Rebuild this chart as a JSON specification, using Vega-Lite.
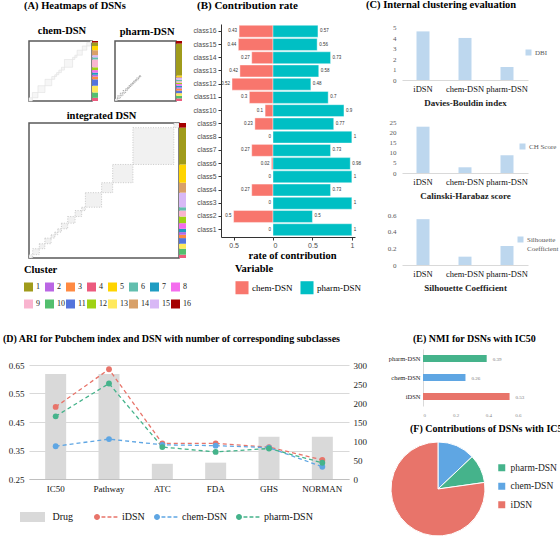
{
"$schema": "https://vega.github.io/schema/vega-lite/v6.json",
"background": "white",
"padding": {"left": 3, "top": 0, "right": 0, "bottom": 0},
"config": {
  "font": "Liberation Serif",
  "view": {"stroke": null},
  "title": {"font": "Liberation Serif", "fontWeight": "bold", "fontSize": 10.5, "anchor": "start", "color": "#000", "offset": 6},
  "axis": {"labelFont": "Liberation Serif", "titleFont": "Liberation Serif", "grid": false},
  "legend": {"labelFont": "Liberation Serif", "titleFont": "Liberation Serif", "padding": 0}
},
"datasets": {
  "segs": [
    {"net": "integrated", "c": "4", "s": 0, "e": 10},
    {"net": "integrated", "c": "10", "s": 10, "e": 28},
    {"net": "integrated", "c": "13", "s": 28, "e": 43},
    {"net": "integrated", "c": "11", "s": 43, "e": 60},
    {"net": "integrated", "c": "3", "s": 60, "e": 70},
    {"net": "integrated", "c": "2", "s": 70, "e": 78},
    {"net": "integrated", "c": "7", "s": 78, "e": 88},
    {"net": "integrated", "c": "8", "s": 88, "e": 105},
    {"net": "integrated", "c": "12", "s": 105, "e": 125},
    {"net": "integrated", "c": "9", "s": 125, "e": 143},
    {"net": "integrated", "c": "6", "s": 143, "e": 153},
    {"net": "integrated", "c": "15", "s": 153, "e": 197},
    {"net": "integrated", "c": "14", "s": 197, "e": 227},
    {"net": "integrated", "c": "5", "s": 227, "e": 282},
    {"net": "integrated", "c": "1", "s": 282, "e": 393},
    {"net": "integrated", "c": "16", "s": 393, "e": 407},
    {"net": "chem", "c": "4", "s": 0, "e": 9},
    {"net": "chem", "c": "10", "s": 9, "e": 24},
    {"net": "chem", "c": "13", "s": 24, "e": 43},
    {"net": "chem", "c": "11", "s": 43, "e": 61},
    {"net": "chem", "c": "3", "s": 61, "e": 69},
    {"net": "chem", "c": "2", "s": 69, "e": 74},
    {"net": "chem", "c": "7", "s": 74, "e": 80},
    {"net": "chem", "c": "8", "s": 80, "e": 87},
    {"net": "chem", "c": "12", "s": 87, "e": 95},
    {"net": "chem", "c": "9", "s": 95, "e": 117},
    {"net": "chem", "c": "6", "s": 117, "e": 123},
    {"net": "chem", "c": "15", "s": 123, "e": 129},
    {"net": "chem", "c": "14", "s": 129, "e": 143},
    {"net": "chem", "c": "5", "s": 143, "e": 155},
    {"net": "chem", "c": "1", "s": 155, "e": 165},
    {"net": "chem", "c": "16", "s": 165, "e": 169},
    {"net": "pharm", "c": "4", "s": 0, "e": 8},
    {"net": "pharm", "c": "10", "s": 8, "e": 16},
    {"net": "pharm", "c": "13", "s": 16, "e": 24},
    {"net": "pharm", "c": "11", "s": 24, "e": 32},
    {"net": "pharm", "c": "3", "s": 32, "e": 38},
    {"net": "pharm", "c": "2", "s": 38, "e": 42},
    {"net": "pharm", "c": "7", "s": 42, "e": 47},
    {"net": "pharm", "c": "8", "s": 47, "e": 52},
    {"net": "pharm", "c": "12", "s": 52, "e": 56},
    {"net": "pharm", "c": "9", "s": 56, "e": 61},
    {"net": "pharm", "c": "6", "s": 61, "e": 65},
    {"net": "pharm", "c": "15", "s": 65, "e": 71},
    {"net": "pharm", "c": "14", "s": 71, "e": 74},
    {"net": "pharm", "c": "5", "s": 74, "e": 78},
    {"net": "pharm", "c": "1", "s": 78, "e": 176},
    {"net": "pharm", "c": "16", "s": 176, "e": 184}
  ],
  "contrib": [
    {"cls": "class1", "var": "chem-DSN", "rate": 0},
    {"cls": "class2", "var": "chem-DSN", "rate": 0.5},
    {"cls": "class3", "var": "chem-DSN", "rate": 0},
    {"cls": "class4", "var": "chem-DSN", "rate": 0.27},
    {"cls": "class5", "var": "chem-DSN", "rate": 0},
    {"cls": "class6", "var": "chem-DSN", "rate": 0.02},
    {"cls": "class7", "var": "chem-DSN", "rate": 0.27},
    {"cls": "class8", "var": "chem-DSN", "rate": 0},
    {"cls": "class9", "var": "chem-DSN", "rate": 0.23},
    {"cls": "class10", "var": "chem-DSN", "rate": 0.1},
    {"cls": "class11", "var": "chem-DSN", "rate": 0.3},
    {"cls": "class12", "var": "chem-DSN", "rate": 0.52},
    {"cls": "class13", "var": "chem-DSN", "rate": 0.42},
    {"cls": "class14", "var": "chem-DSN", "rate": 0.27},
    {"cls": "class15", "var": "chem-DSN", "rate": 0.44},
    {"cls": "class16", "var": "chem-DSN", "rate": 0.43},
    {"cls": "class1", "var": "pharm-DSN", "rate": 1},
    {"cls": "class2", "var": "pharm-DSN", "rate": 0.5},
    {"cls": "class3", "var": "pharm-DSN", "rate": 1},
    {"cls": "class4", "var": "pharm-DSN", "rate": 0.73},
    {"cls": "class5", "var": "pharm-DSN", "rate": 1},
    {"cls": "class6", "var": "pharm-DSN", "rate": 0.98},
    {"cls": "class7", "var": "pharm-DSN", "rate": 0.73},
    {"cls": "class8", "var": "pharm-DSN", "rate": 1},
    {"cls": "class9", "var": "pharm-DSN", "rate": 0.77},
    {"cls": "class10", "var": "pharm-DSN", "rate": 0.9},
    {"cls": "class11", "var": "pharm-DSN", "rate": 0.7},
    {"cls": "class12", "var": "pharm-DSN", "rate": 0.48},
    {"cls": "class13", "var": "pharm-DSN", "rate": 0.58},
    {"cls": "class14", "var": "pharm-DSN", "rate": 0.73},
    {"cls": "class15", "var": "pharm-DSN", "rate": 0.56},
    {"cls": "class16", "var": "pharm-DSN", "rate": 0.57}
  ],
  "ivi": [
    {"m": "DBI", "net": "iDSN", "val": 4.67},
    {"m": "DBI", "net": "chem-DSN", "val": 4.04},
    {"m": "DBI", "net": "pharm-DSN", "val": 1.25},
    {"m": "CH Score", "net": "iDSN", "val": 22.7},
    {"m": "CH Score", "net": "chem-DSN", "val": 2.8},
    {"m": "CH Score", "net": "pharm-DSN", "val": 8.7},
    {"m": "Silhouette Coefficient", "net": "iDSN", "val": 0.55},
    {"m": "Silhouette Coefficient", "net": "chem-DSN", "val": 0.1},
    {"m": "Silhouette Coefficient", "net": "pharm-DSN", "val": 0.228}
  ],
  "drug": [
    {"cat": "IC50", "kind": "Drug", "n": 276},
    {"cat": "Pathway", "kind": "Drug", "n": 276},
    {"cat": "ATC", "kind": "Drug", "n": 40},
    {"cat": "FDA", "kind": "Drug", "n": 43},
    {"cat": "GHS", "kind": "Drug", "n": 111},
    {"cat": "NORMAN", "kind": "Drug", "n": 111}
  ],
  "ari": [
    {"cat": "IC50", "dsn": "iDSN", "ari": 0.503},
    {"cat": "Pathway", "dsn": "iDSN", "ari": 0.635},
    {"cat": "ATC", "dsn": "iDSN", "ari": 0.375},
    {"cat": "FDA", "dsn": "iDSN", "ari": 0.375},
    {"cat": "GHS", "dsn": "iDSN", "ari": 0.362},
    {"cat": "NORMAN", "dsn": "iDSN", "ari": 0.317},
    {"cat": "IC50", "dsn": "chem-DSN", "ari": 0.365},
    {"cat": "Pathway", "dsn": "chem-DSN", "ari": 0.39},
    {"cat": "ATC", "dsn": "chem-DSN", "ari": 0.37},
    {"cat": "FDA", "dsn": "chem-DSN", "ari": 0.367},
    {"cat": "GHS", "dsn": "chem-DSN", "ari": 0.36},
    {"cat": "NORMAN", "dsn": "chem-DSN", "ari": 0.293},
    {"cat": "IC50", "dsn": "pharm-DSN", "ari": 0.47},
    {"cat": "Pathway", "dsn": "pharm-DSN", "ari": 0.585},
    {"cat": "ATC", "dsn": "pharm-DSN", "ari": 0.362},
    {"cat": "FDA", "dsn": "pharm-DSN", "ari": 0.345},
    {"cat": "GHS", "dsn": "pharm-DSN", "ari": 0.357},
    {"cat": "NORMAN", "dsn": "pharm-DSN", "ari": 0.307}
  ],
  "nmi": [
    {"dsn": "pharm-DSN", "nmi": 0.39},
    {"dsn": "chem-DSN", "nmi": 0.26},
    {"dsn": "iDSN", "nmi": 0.53}
  ],
  "share": [
    {"dsn": "chem-DSN", "p": 0.1294},
    {"dsn": "pharm-DSN", "p": 0.0983},
    {"dsn": "iDSN", "p": 0.7723}
  ],
  "dot": [{"k": 0}]
},
"resolve": {"scale": {"color": "independent", "fill": "independent", "stroke": "independent"}, "legend": {"color": "independent", "fill": "independent", "stroke": "independent"}},
"spacing": 25,
"vconcat": [
  {
    "spacing": 0,
    "resolve": {"scale": {"color": "independent"}, "legend": {"color": "independent"}},
    "hconcat": [
      {
        "title": {"text": "(A) Heatmaps  of DSNs", "offset": 13},
        "spacing": 0,
        "resolve": {"scale": {"color": "independent"}, "legend": {"color": "independent"}},
        "vconcat": [
          {"width": 1, "height": 1, "data": {"name": "dot"}, "mark": {"type": "point", "opacity": 0, "size": 1}},
          {
            "spacing": 7,
            "resolve": {"scale": {"color": "independent"}, "legend": {"color": "independent"}},
            "vconcat": [
              {
                "spacing": 15,
                "resolve": {"scale": {"color": "independent"}, "legend": {"color": "independent"}},
                "hconcat": [
                  {
                    "spacing": 0, "bounds": "flush",
                    "resolve": {"scale": {"color": "independent"}, "legend": {"color": "independent"}},
                    "hconcat": [
                      {
                        "width": 63, "height": 60,
                        "title": {"text": "chem-DSN", "anchor": "start", "dx": 9, "fontSize": 10.5, "offset": 4},
                        "view": {"stroke": "#5a5a5a", "strokeWidth": 1.5},
                        "data": {"name": "segs"},
                        "transform": [{"filter": "datum.net == 'chem'"}],
                        "mark": {"type": "rect", "fill": "#f6f6f6", "stroke": "#dddddd", "strokeWidth": 0.5},
                        "encoding": {
                          "x": {"field": "s", "type": "quantitative", "scale": {"domain": [0, 169], "nice": false}, "axis": null},
                          "x2": {"field": "e"},
                          "y": {"field": "s", "type": "quantitative", "scale": {"domain": [0, 169], "nice": false}, "axis": null},
                          "y2": {"field": "e"}
                        }
                      },
                      {
                        "width": 6, "height": 60,
                        "data": {"name": "segs"},
                        "transform": [{"filter": "datum.net == 'chem'"}],
                        "mark": {"type": "rect"},
                        "encoding": {
                          "y": {"field": "s", "type": "quantitative", "scale": {"domain": [0, 169], "nice": false}, "axis": null},
                          "y2": {"field": "e"},
                          "color": {"field": "c", "type": "nominal",
                            "scale": {"domain": ["1","2","3","4","5","6","7","8","9","10","11","12","13","14","15","16"],
                                      "range": ["#A09B1B","#BA66E4","#FF8A42","#EC5B7E","#FFD400","#62BEAE","#1E9CC2","#F46DEE","#F9B4CF","#53BF6E","#5474DC","#9FD214","#FFE95C","#D8A068","#D8B8F6","#A50000"]},
                            "legend": null}
                        }
                      }
                    ]
                  },
                  {
                    "spacing": 0, "bounds": "flush",
                    "resolve": {"scale": {"color": "independent"}, "legend": {"color": "independent"}},
                    "hconcat": [
                      {
                        "width": 61, "height": 60,
                        "title": {"text": "pharm-DSN", "anchor": "start", "dx": 5, "fontSize": 10.5, "offset": 4},
                        "view": {"stroke": "#5a5a5a", "strokeWidth": 1.5},
                        "data": {"name": "segs"},
                        "transform": [{"filter": "datum.net == 'pharm' && datum.c != '1' && datum.c != '16'"}],
                        "mark": {"type": "rect", "fill": "#eeeeee", "stroke": "#777777", "strokeWidth": 0.6, "strokeDash": [1, 1]},
                        "encoding": {
                          "x": {"field": "s", "type": "quantitative", "scale": {"domain": [0, 184], "nice": false}, "axis": null},
                          "x2": {"field": "e"},
                          "y": {"field": "s", "type": "quantitative", "scale": {"domain": [0, 184], "nice": false}, "axis": null},
                          "y2": {"field": "e"}
                        }
                      },
                      {
                        "width": 6, "height": 60,
                        "data": {"name": "segs"},
                        "transform": [{"filter": "datum.net == 'pharm'"}],
                        "mark": {"type": "rect"},
                        "encoding": {
                          "y": {"field": "s", "type": "quantitative", "scale": {"domain": [0, 184], "nice": false}, "axis": null},
                          "y2": {"field": "e"},
                          "color": {"field": "c", "type": "nominal",
                            "scale": {"domain": ["1","2","3","4","5","6","7","8","9","10","11","12","13","14","15","16"],
                                      "range": ["#A09B1B","#BA66E4","#FF8A42","#EC5B7E","#FFD400","#62BEAE","#1E9CC2","#F46DEE","#F9B4CF","#53BF6E","#5474DC","#9FD214","#FFE95C","#D8A068","#D8B8F6","#A50000"]},
                            "legend": null}
                        }
                      }
                    ]
                  }
                ]
              },
              {
                "spacing": 0, "bounds": "flush",
                "resolve": {"scale": {"color": "independent"}, "legend": {"color": "independent"}},
                "hconcat": [
                  {
                    "width": 150, "height": 135,
                    "title": {"text": "integrated DSN", "anchor": "start", "dx": 38, "fontSize": 10.5, "offset": 1},
                    "view": {"stroke": "#5a5a5a", "strokeWidth": 1.5},
                    "data": {"name": "segs"},
                    "transform": [{"filter": "datum.net == 'integrated'"}],
                    "mark": {"type": "rect", "fill": "#f1f1f1", "stroke": "#aaaaaa", "strokeWidth": 0.6, "strokeDash": [1, 1.5]},
                    "encoding": {
                      "x": {"field": "s", "type": "quantitative", "scale": {"domain": [0, 407], "nice": false}, "axis": null},
                      "x2": {"field": "e"},
                      "y": {"field": "s", "type": "quantitative", "scale": {"domain": [0, 407], "nice": false}, "axis": null},
                      "y2": {"field": "e"}
                    }
                  },
                  {
                    "width": 7, "height": 135,
                    "data": {"name": "segs"},
                    "transform": [{"filter": "datum.net == 'integrated'"}],
                    "mark": {"type": "rect"},
                    "encoding": {
                      "y": {"field": "s", "type": "quantitative", "scale": {"domain": [0, 407], "nice": false}, "axis": null},
                      "y2": {"field": "e"},
                      "color": {"field": "c", "type": "nominal",
                        "scale": {"domain": ["1","2","3","4","5","6","7","8","9","10","11","12","13","14","15","16"],
                                  "range": ["#A09B1B","#BA66E4","#FF8A42","#EC5B7E","#FFD400","#62BEAE","#1E9CC2","#F46DEE","#F9B4CF","#53BF6E","#5474DC","#9FD214","#FFE95C","#D8A068","#D8B8F6","#A50000"]},
                        "legend": {"title": "Cluster", "orient": "none", "legendX": -155, "legendY": 142, "direction": "horizontal", "columns": 8, "symbolType": "square", "symbolSize": 81, "symbolStrokeWidth": 0, "labelFontSize": 8, "labelOffset": 3, "columnPadding": 1, "rowPadding": 8, "gridAlign": "all", "titleFontSize": 10.5, "titleFontWeight": "bold", "titlePadding": 7, "titleOrient": "top", "titleAnchor": "start", "titleAlign": "left", "labelColor": "#222"}}
                    }
                  }
                ]
              }
            ]
          }
        ]
      },
      {
        "title": {"text": "(B) Contribution   rate", "fontSize": 11, "offset": 13, "dx": 6},
        "data": {"name": "contrib"},
        "spacing": 0, "bounds": "flush",
        "resolve": {"scale": {"color": "independent"}, "legend": {"color": "independent"}},
        "hconcat": [
          {
            "width": 52, "height": 213,
            "transform": [{"filter": "datum.var == 'chem-DSN'"}],
            "encoding": {
              "y": {"field": "cls", "type": "nominal",
                "sort": ["class16","class15","class14","class13","class12","class11","class10","class9","class8","class7","class6","class5","class4","class3","class2","class1"],
                "scale": {"paddingInner": 0.1, "paddingOuter": 0.1},
                "axis": {"title": null, "labelFont": "Liberation Sans", "labelFontSize": 6.8, "labelColor": "#4d4d4d", "tickColor": "#333", "tickSize": 3, "domainColor": "#333", "labelPadding": 2, "minExtent": 30, "maxExtent": 30}},
              "x": {"field": "rate", "type": "quantitative", "scale": {"domain": [0, 0.66], "reverse": true, "nice": false},
                "axis": {"values": [0.5], "format": "~g", "title": null, "labelFont": "Liberation Sans", "labelFontSize": 7, "labelColor": "#4d4d4d", "tickColor": "#333", "tickSize": 3, "domainColor": "#333", "labelPadding": 1}}
            },
            "layer": [
              {"mark": {"type": "bar", "stroke": "white", "strokeWidth": 0.4},
               "encoding": {"color": {"field": "var", "type": "nominal", "scale": {"domain": ["chem-DSN", "pharm-DSN"], "range": ["#F8766D", "#00BFC4"]},
                 "legend": {"title": "Variable", "orient": "none", "legendX": 14, "legendY": 240, "direction": "horizontal", "titleOrient": "top", "titleAnchor": "start", "titleAlign": "left", "symbolType": "square", "symbolSize": 170, "symbolStrokeWidth": 0, "labelFontSize": 9, "titleFontSize": 10.5, "titleFontWeight": "bold", "titlePadding": 6, "columnPadding": 7, "labelOffset": 3}}}},
              {"mark": {"type": "text", "align": "right", "dx": -2, "fontSize": 4.5, "font": "Liberation Sans", "color": "#333"},
               "encoding": {"text": {"field": "rate", "type": "quantitative", "format": ".2~f"}}}
            ]
          },
          {
            "width": 82, "height": 213,
            "transform": [{"filter": "datum.var == 'pharm-DSN'"}],
            "encoding": {
              "y": {"field": "cls", "type": "nominal",
                "sort": ["class16","class15","class14","class13","class12","class11","class10","class9","class8","class7","class6","class5","class4","class3","class2","class1"],
                "scale": {"paddingInner": 0.1, "paddingOuter": 0.1}, "axis": null},
              "x": {"field": "rate", "type": "quantitative", "scale": {"domain": [0, 1.04], "nice": false},
                "axis": {"values": [0, 0.5, 1], "format": "~g", "title": "rate of contribution", "titleX": 19, "titleFontSize": 10.5, "titleFontWeight": "bold", "titlePadding": 2, "labelFont": "Liberation Sans", "labelFontSize": 7, "labelColor": "#4d4d4d", "tickColor": "#333", "tickSize": 3, "domainColor": "#333", "labelPadding": 1}}
            },
            "layer": [
              {"mark": {"type": "bar", "stroke": "white", "strokeWidth": 0.4},
               "encoding": {"color": {"field": "var", "type": "nominal", "scale": {"domain": ["chem-DSN", "pharm-DSN"], "range": ["#F8766D", "#00BFC4"]}, "legend": null}}},
              {"mark": {"type": "text", "align": "left", "dx": 2, "fontSize": 4.5, "font": "Liberation Sans", "color": "#333"},
               "encoding": {"text": {"field": "rate", "type": "quantitative", "format": ".2~f"}}}
            ]
          }
        ]
      },
      {
        "title": {"text": "(C) Internal  clustering evaluation", "offset": 13, "dx": 4},
        "data": {"name": "ivi"},
        "spacing": 10,
        "resolve": {"scale": {"color": "independent"}, "legend": {"color": "independent"}},
        "vconcat": [
          {
            "width": 126, "height": 56,
            "transform": [{"filter": "datum.m == 'DBI'"}],
            "mark": {"type": "bar", "width": 13},
            "encoding": {
              "x": {"field": "net", "type": "nominal", "sort": ["iDSN", "chem-DSN", "pharm-DSN"], "scale": {"paddingInner": 0, "paddingOuter": 0},
                "axis": {"title": "Davies-Bouldin index", "labelAngle": 0, "labelFontSize": 8.5, "labelColor": "#111", "domainColor": "#D9D9D9", "ticks": false, "labelPadding": 4, "titleFontSize": 9, "titleFontWeight": "bold", "titlePadding": 6, "titleColor": "#222"}},
              "y": {"field": "val", "type": "quantitative", "scale": {"domain": [0, 5.38], "nice": false},
                "axis": {"values": [0, 1, 2, 3, 4, 5], "title": null, "domain": false, "ticks": false, "labelFontSize": 7, "labelColor": "#595959", "labelPadding": 6, "minExtent": 40, "maxExtent": 40}},
              "color": {"field": "m", "type": "nominal", "scale": {"range": ["#BDD7EE"]},
                "legend": {"orient": "none", "legendX": 123, "legendY": 25, "title": null, "symbolType": "square", "symbolSize": 36, "symbolStrokeWidth": 0, "labelFontSize": 7, "labelColor": "#595959", "labelOffset": 3}}
            }
          },
          {
            "width": 126, "height": 51,
            "transform": [{"filter": "datum.m == 'CH Score'"}],
            "mark": {"type": "bar", "width": 13},
            "encoding": {
              "x": {"field": "net", "type": "nominal", "sort": ["iDSN", "chem-DSN", "pharm-DSN"], "scale": {"paddingInner": 0, "paddingOuter": 0},
                "axis": {"title": "Calinski-Harabaz score", "labelAngle": 0, "labelFontSize": 8.5, "labelColor": "#111", "domainColor": "#D9D9D9", "ticks": false, "labelPadding": 4, "titleFontSize": 9, "titleFontWeight": "bold", "titlePadding": 6, "titleColor": "#222"}},
              "y": {"field": "val", "type": "quantitative", "scale": {"domain": [0, 25], "nice": false},
                "axis": {"values": [0, 5, 10, 15, 20, 25], "title": null, "domain": false, "ticks": false, "labelFontSize": 7, "labelColor": "#595959", "labelPadding": 6, "minExtent": 40, "maxExtent": 40}},
              "color": {"field": "m", "type": "nominal", "scale": {"range": ["#BDD7EE"]},
                "legend": {"orient": "none", "legendX": 117, "legendY": 21, "title": null, "symbolType": "square", "symbolSize": 36, "symbolStrokeWidth": 0, "labelFontSize": 7, "labelColor": "#595959", "labelOffset": 3}}
            }
          },
          {
            "width": 126, "height": 50,
            "transform": [{"filter": "datum.m == 'Silhouette Coefficient'"}],
            "mark": {"type": "bar", "width": 13},
            "encoding": {
              "x": {"field": "net", "type": "nominal", "sort": ["iDSN", "chem-DSN", "pharm-DSN"], "scale": {"paddingInner": 0, "paddingOuter": 0},
                "axis": {"title": "Silhouette Coefficient", "labelAngle": 0, "labelFontSize": 8.5, "labelColor": "#111", "domainColor": "#D9D9D9", "ticks": false, "labelPadding": 4, "titleFontSize": 9, "titleFontWeight": "bold", "titlePadding": 6, "titleColor": "#222"}},
              "y": {"field": "val", "type": "quantitative", "scale": {"domain": [0, 0.6], "nice": false},
                "axis": {"values": [0, 0.2, 0.4, 0.6], "format": ".1~f", "title": null, "domain": false, "ticks": false, "labelFontSize": 7, "labelColor": "#595959", "labelPadding": 6, "minExtent": 40, "maxExtent": 40}},
              "color": {"field": "m", "type": "nominal", "scale": {"range": ["#BDD7EE"]},
                "legend": {"orient": "none", "legendX": 115, "legendY": 21, "title": null, "symbolType": "square", "symbolSize": 36, "symbolStrokeWidth": 0, "labelFontSize": 7, "labelColor": "#595959", "labelOffset": 3, "labelExpr": "split(datum.label, ' ')"}}
            }
          }
        ]
      }
    ]
  },
  {
    "spacing": 14,
    "resolve": {"scale": {"color": "independent", "fill": "independent", "stroke": "independent"}, "legend": {"color": "independent", "fill": "independent", "stroke": "independent"}},
    "hconcat": [
      {
        "title": {"text": "(D) ARI  for  Pubchem  index  and DSN with number  of  corresponding  subclasses", "fontSize": 10, "offset": 5},
        "spacing": 11,
        "resolve": {"scale": {"color": "independent", "fill": "independent", "stroke": "independent"}, "legend": {"color": "independent", "fill": "independent", "stroke": "independent"}},
        "vconcat": [
          {"width": 1, "height": 1, "data": {"name": "dot"}, "mark": {"type": "point", "opacity": 0, "size": 1}},
          {
            "width": 320, "height": 114,
            "encoding": {
              "x": {"field": "cat", "type": "nominal", "sort": ["IC50", "Pathway", "ATC", "FDA", "GHS", "NORMAN"], "scale": {"paddingInner": 0, "paddingOuter": 0},
                "axis": {"title": null, "labelAngle": 0, "labelFontSize": 9, "labelColor": "#111", "domainColor": "#BFBFBF", "ticks": false, "labelPadding": 5}}
            },
            "resolve": {"scale": {"y": "independent"}},
            "layer": [
              {
                "data": {"name": "drug"},
                "mark": {"type": "bar", "width": 21},
                "encoding": {
                  "y": {"field": "n", "type": "quantitative", "scale": {"domain": [0, 300], "nice": false},
                    "axis": {"orient": "right", "values": [0, 50, 100, 150, 200, 250, 300], "title": null, "domain": false, "ticks": false, "labelFontSize": 9, "labelColor": "#222", "labelPadding": 4}},
                  "fill": {"field": "kind", "type": "nominal", "scale": {"range": ["#D9D9D9"]},
                    "legend": {"orient": "none", "legendX": -1.5, "legendY": 147, "title": null, "symbolType": "M-2.5,-1H2.5V1H-2.5Z", "symbolSize": 100, "symbolStrokeWidth": 0, "labelOffset": 15, "labelFontSize": 10, "labelColor": "#111"}}
                }
              },
              {
                "data": {"name": "ari"},
                "encoding": {
                  "y": {"field": "ari", "type": "quantitative", "scale": {"domain": [0.25, 0.65], "nice": false},
                    "axis": {"orient": "left", "values": [0.25, 0.35, 0.45, 0.55, 0.65], "format": ".2f", "title": null, "domain": false, "ticks": false, "grid": true, "gridColor": "#D9D9D9", "labelFontSize": 9, "labelColor": "#222", "labelPadding": 5, "minExtent": 26, "maxExtent": 26}}
                },
                "layer": [
                  {"mark": {"type": "line", "strokeDash": [4, 3], "strokeWidth": 1.3},
                   "encoding": {"stroke": {"field": "dsn", "type": "nominal", "scale": {"domain": ["chem-DSN", "iDSN", "pharm-DSN"], "range": ["#5FA6E3", "#E8746A", "#45B38B"]}, "legend": null}}},
                  {"mark": {"type": "point", "filled": true, "size": 34, "opacity": 1},
                   "encoding": {"color": {"field": "dsn", "type": "nominal", "scale": {"domain": ["iDSN", "chem-DSN", "pharm-DSN"], "range": ["#E8746A", "#5FA6E3", "#45B38B"]},
                     "legend": {"orient": "none", "legendX": 70.5, "legendY": 147, "title": null, "direction": "horizontal",
                       "symbolType": "M-3.5,0A1,1,0,1,1,-1.5,0A1,1,0,1,1,-3.5,0Z M-1,-0.22H0.3V0.22H-1Z M1,-0.22H2.3V0.22H1Z M3,-0.22H4.3V0.22H3Z",
                       "symbolSize": 36, "symbolStrokeWidth": 0, "symbolOpacity": 1, "labelOffset": 12.5, "columnPadding": 8, "labelFontSize": 10, "labelColor": "#111"}}}}
                ]
              }
            ]
          }
        ]
      },
      {
        "spacing": 7,
        "resolve": {"scale": {"color": "independent"}, "legend": {"color": "independent"}},
        "vconcat": [
          {
            "title": {"text": "(E) NMI  for DSNs with IC50", "fontSize": 10, "dx": 32, "offset": 5},
            "width": 98, "height": 57,
            "data": {"name": "nmi"},
            "encoding": {
              "y": {"field": "dsn", "type": "nominal", "sort": ["pharm-DSN", "chem-DSN", "iDSN"], "scale": {"paddingInner": 0.6, "paddingOuter": 0.3},
                "axis": {"title": null, "ticks": false, "domainColor": "#D9D9D9", "labelFontSize": 6.5, "labelColor": "#222", "labelPadding": 3, "minExtent": 42, "maxExtent": 42}},
              "x": {"field": "nmi", "type": "quantitative", "scale": {"domain": [0, 0.6], "nice": false},
                "axis": {"values": [0, 0.2, 0.4, 0.6], "format": "~g", "title": null, "domain": false, "ticks": false, "labelFontSize": 5, "labelColor": "#888", "labelPadding": 6}}
            },
            "layer": [
              {"mark": {"type": "bar", "height": 7},
               "encoding": {"color": {"field": "dsn", "type": "nominal", "scale": {"domain": ["iDSN", "chem-DSN", "pharm-DSN"], "range": ["#E8746A", "#5FA6E3", "#45B38B"]}, "legend": null}}},
              {"mark": {"type": "text", "align": "left", "dx": 6, "fontSize": 5, "color": "#777"},
               "encoding": {"text": {"field": "nmi", "type": "quantitative", "format": ".2f"}}}
            ]
          },
          {
            "title": {"text": "(F) Contributions  of DSNs with IC50", "fontSize": 10, "dx": 21, "offset": 6},
            "width": 30, "height": 94,
            "data": {"name": "share"},
            "encoding": {
              "theta": {"field": "p", "type": "quantitative", "stack": true, "scale": {"range": [0.813, 7.096]}},
              "order": {"field": "dsn", "type": "ordinal", "sort": "descending"},
              "color": {"field": "dsn", "type": "nominal", "scale": {"domain": ["iDSN", "chem-DSN", "pharm-DSN"], "range": ["#E8746A", "#5FA6E3", "#45B38B"]},
                "legend": {"orient": "none", "legendX": 74, "legendY": 21, "title": null, "values": ["pharm-DSN", "chem-DSN", "iDSN"], "symbolType": "square", "symbolSize": 49, "symbolStrokeWidth": 0, "labelFontSize": 9.5, "labelColor": "#222", "rowPadding": 7.5, "labelOffset": 4}}
            },
            "layer": [
              {"mark": {"type": "arc", "outerRadius": 47, "stroke": "white", "strokeWidth": 1}},
              {"mark": {"type": "text", "radius": 24, "fontSize": 5.5, "color": "#333"},
               "encoding": {"text": {"field": "p", "type": "quantitative", "format": ".2%"}}}
            ]
          }
        ]
      }
    ]
  }
]
}
